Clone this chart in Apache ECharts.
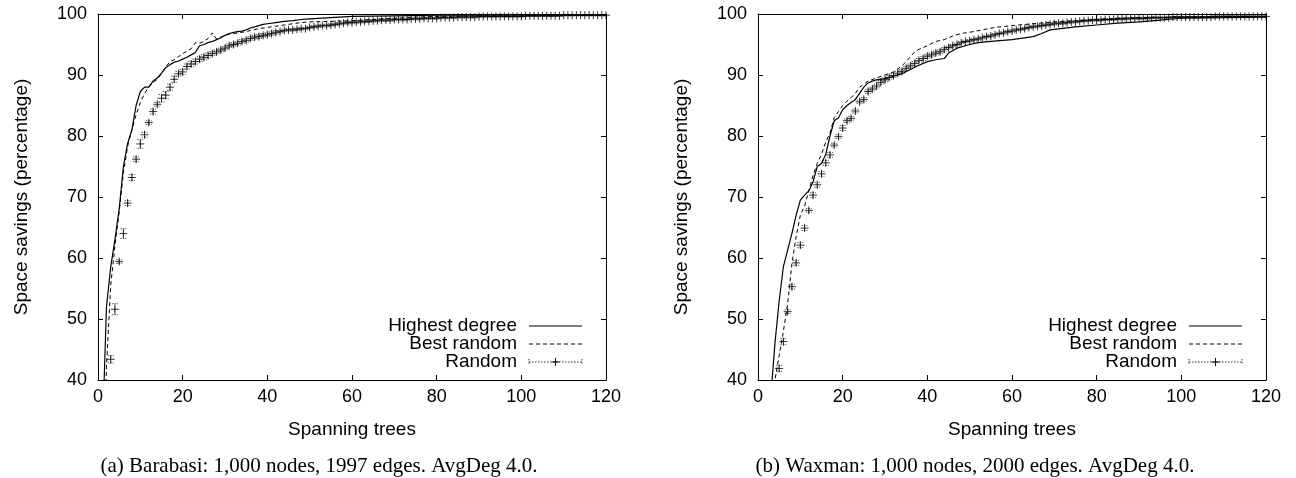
<!DOCTYPE html>
<html>
<head>
<meta charset="utf-8">
<script src="https://cdn.jsdelivr.net/npm/echarts@6/dist/echarts.min.js"></script>
<style>
  html, body { margin: 0; padding: 0; background: #fff; }
  #chart { width: 1296px; height: 478px; }
</style>
</head>
<body>
<div id="chart"></div>
<script>
// ---- Axis ticks ----
const xTicks = [0, 20, 40, 60, 80, 100, 120];
const yTicks = [40, 50, 60, 70, 80, 90, 100];

// ---- (a) Barabasi: [spanning trees, space savings %] ----
const barabasiHighest = [
  [1, 30], [2, 52], [3, 58.5], [4, 63], [5, 68], [6, 75], [7, 78.8], [8, 81], [9, 85], [10, 87.3],
  [11, 88], [12, 88], [13, 89], [14, 89.5], [15, 90.3], [16, 91.2], [17, 91.7], [18, 92.1], [19, 92.3], [20, 92.6],
  [21, 92.9], [22, 93.3], [23, 93.7], [24, 94.8], [25, 95.0], [26, 95.3], [27, 95.5], [28, 95.8], [29, 96.1], [30, 96.5],
  [31, 96.8], [32, 97.0], [33, 97.1], [34, 97.2], [35, 97.4], [36, 97.7], [37, 97.9], [38, 98.1], [39, 98.3], [40, 98.4],
  [42, 98.6], [44, 98.8], [46, 98.9], [48, 99.1], [50, 99.2], [55, 99.4], [60, 99.6], [70, 99.7], [80, 99.8],
  [100, 99.85], [120, 99.9]
];
const barabasiBest = [
  [1, 20], [2, 42], [3, 55.5], [4, 62], [5, 67.5], [6, 74], [7, 78.3], [8, 81], [9, 83.5], [10, 85.5],
  [11, 87], [12, 88], [13, 88.7], [14, 89.3], [15, 90.2], [16, 91.3], [17, 92.2], [18, 92.5], [19, 93], [20, 93.5],
  [21, 93.9], [22, 94.3], [23, 95.3], [24, 95.2], [25, 95.5], [26, 96], [27, 96.9], [28, 95.9], [29, 96.2], [30, 96.5],
  [31, 96.7], [32, 96.8], [33, 96.9], [34, 97.0], [35, 97.1], [36, 97.3], [38, 97.6], [40, 97.8], [42, 98.0], [44, 98.2],
  [46, 98.4], [48, 98.6], [50, 98.7], [55, 98.8], [60, 98.9], [65, 99.1], [70, 99.3], [75, 99.5], [80, 99.6],
  [90, 99.7], [100, 99.7], [120, 99.8]
];
// Random: mean per tree count, starting at 3 trees
const barabasiRandStart = 3;
const barabasiRand = [
  43.4, 51.6, 59.4, 64.0, 69.0, 73.2, 76.2, 78.7, 80.2, 82.2,
  84.0, 85.2, 86.2, 86.7, 88.0, 89.3, 90.2, 90.5, 91.4, 91.8,
  92.2, 92.6, 92.9, 93.2, 93.5, 93.8, 94.1, 94.4, 94.8, 95.0,
  95.2, 95.5, 95.7, 96.0, 96.2, 96.3, 96.5, 96.6, 96.8, 97.0,
  97.1, 97.3, 97.4, 97.4, 97.5, 97.6, 97.6, 97.8, 97.9, 98.0,
  98.1, 98.1, 98.2, 98.3, 98.4, 98.5, 98.6, 98.6, 98.7, 98.7,
  98.8, 98.8, 98.9, 98.9, 99.0, 99.0, 99.0, 99.1, 99.1, 99.1,
  99.1, 99.2, 99.2, 99.2, 99.3, 99.3, 99.3, 99.3, 99.4, 99.4,
  99.4, 99.4, 99.5, 99.5, 99.5, 99.5, 99.5, 99.6, 99.6, 99.6,
  99.6, 99.6, 99.6, 99.6, 99.6, 99.6, 99.6, 99.6, 99.7, 99.7,
  99.7, 99.7, 99.7, 99.7, 99.7, 99.7, 99.7, 99.8, 99.8, 99.8,
  99.8, 99.8, 99.8, 99.8, 99.8, 99.8, 99.8, 99.8
];
const barabasiRandErr = [
  0.6, 0.9, 0.3, 0.8, 0.4, 0.5, 0.4, 0.7, 0.4, 0.3,
  0.4, 0.3, 0.6, 0.6, 0.5, 0.5, 0.4, 0.4, 0.4, 0.4,
  0.4, 0.4, 0.4, 0.4, 0.3, 0.3, 0.3, 0.3, 0.3, 0.3,
  0.3, 0.3, 0.3, 0.3, 0.3, 0.3, 0.3, 0.3, 0.3, 0.3,
  0.2, 0.2, 0.2, 0.2, 0.2, 0.2, 0.2, 0.2, 0.2, 0.2,
  0.2, 0.2, 0.2, 0.2, 0.2, 0.2, 0.2, 0.2, 0.2, 0.2,
  0.2, 0.2, 0.2, 0.2, 0.2, 0.2, 0.2, 0.2, 0.2, 0.2,
  0.15, 0.15, 0.15, 0.15, 0.15, 0.15, 0.15, 0.15, 0.15, 0.15,
  0.15, 0.15, 0.15, 0.15, 0.15, 0.15, 0.15, 0.15, 0.15, 0.15,
  0.1, 0.1, 0.1, 0.1, 0.1, 0.1, 0.1, 0.1, 0.1, 0.1,
  0.1, 0.1, 0.1, 0.1, 0.1, 0.1, 0.1, 0.1, 0.1, 0.1,
  0.1, 0.1, 0.1, 0.1, 0.1, 0.1, 0.1, 0.1
];

// ---- (b) Waxman ----
const waxmanHighest = [
  [3, 37], [4, 46], [5, 53], [6, 58.6], [7, 61.3], [8, 64], [9, 67], [10, 69.5],
  [11, 70.3], [12, 71], [13, 72.5], [14, 75], [15, 75.5], [16, 77], [17, 80], [18, 82.5], [19, 83], [20, 84.3],
  [21, 85], [22, 85.5], [23, 86], [24, 87], [25, 88], [26, 88.7], [27, 89], [28, 89.2], [30, 89.4],
  [32, 89.8], [34, 90.2], [36, 90.9], [38, 91.6], [40, 92.2], [42, 92.5], [44, 92.7], [45, 93.6],
  [47, 94.4], [50, 95.0], [52, 95.3], [55, 95.5], [60, 95.8], [65, 96.3], [67, 96.8], [69, 97.4],
  [75, 97.9], [80, 98.2], [85, 98.5], [90, 98.7], [95, 99.0], [100, 99.3], [110, 99.4], [120, 99.5]
];
const waxmanBest = [
  [3, 30], [4, 40], [5, 44], [6, 48], [7, 52.5], [8, 59], [9, 63.5], [10, 67],
  [11, 68.5], [12, 71], [13, 73.5], [14, 75.5], [15, 77], [16, 79], [17, 80.5], [18, 83], [19, 84], [20, 85],
  [21, 85.7], [22, 86.3], [23, 87], [24, 88], [25, 88.5], [26, 89], [28, 89.5], [30, 90],
  [32, 90.5], [34, 91.5], [35, 92.2], [36, 93], [37, 93.8], [38, 94.2], [40, 94.8], [42, 95.5],
  [44, 95.8], [46, 96.4], [48, 96.8], [50, 97.0], [53, 97.4], [56, 97.8], [60, 98.1], [65, 98.4],
  [70, 98.7], [75, 98.9], [80, 99.1], [85, 99.3], [90, 99.4], [100, 99.5], [110, 99.6], [120, 99.6]
];
const waxmanRandStart = 5;
const waxmanRand = [
  41.9, 46.3, 51.2, 55.3, 59.2, 62.1, 64.9, 67.8, 70.3, 72.0,
  73.8, 75.6, 76.9, 78.5, 79.9, 81.3, 82.5, 82.9, 84.1, 85.6,
  86.0, 87.3, 87.7, 88.2, 88.8, 89.2, 89.6, 89.9, 90.3, 90.6,
  91.1, 91.5, 91.9, 92.4, 92.7, 93.1, 93.3, 93.6, 93.8, 94.2,
  94.5, 94.8, 95.0, 95.3, 95.5, 95.6, 95.8, 95.9, 96.1, 96.3,
  96.4, 96.6, 96.8, 96.9, 97.1, 97.2, 97.4, 97.5, 97.6, 97.8,
  97.9, 98.0, 98.1, 98.2, 98.3, 98.4, 98.5, 98.5, 98.6, 98.7,
  98.7, 98.8, 98.9, 98.9, 99.0, 99.0, 99.0, 99.1, 99.1, 99.1,
  99.2, 99.2, 99.2, 99.3, 99.3, 99.3, 99.3, 99.3, 99.4, 99.4,
  99.4, 99.4, 99.4, 99.5, 99.5, 99.5, 99.5, 99.5, 99.5, 99.5,
  99.5, 99.5, 99.5, 99.6, 99.6, 99.6, 99.6, 99.6, 99.6, 99.6,
  99.6, 99.6, 99.6, 99.6, 99.6, 99.6
];
const waxmanRandErr = [
  0.5, 0.5, 0.3, 0.4, 0.4, 0.4, 0.4, 0.3, 0.4, 0.4,
  0.4, 0.4, 0.4, 0.3, 0.3, 0.4, 0.3, 0.3, 0.3, 0.3,
  0.3, 0.3, 0.3, 0.3, 0.3, 0.3, 0.3, 0.3, 0.3, 0.3,
  0.3, 0.3, 0.3, 0.3, 0.3, 0.3, 0.3, 0.3, 0.3, 0.3,
  0.2, 0.2, 0.2, 0.2, 0.2, 0.2, 0.2, 0.2, 0.2, 0.2,
  0.2, 0.2, 0.2, 0.2, 0.2, 0.2, 0.2, 0.2, 0.2, 0.2,
  0.2, 0.2, 0.2, 0.2, 0.2, 0.2, 0.2, 0.2, 0.2, 0.2,
  0.15, 0.15, 0.15, 0.15, 0.15, 0.15, 0.15, 0.15, 0.15, 0.15,
  0.15, 0.15, 0.15, 0.15, 0.15, 0.15, 0.15, 0.15, 0.15, 0.15,
  0.1, 0.1, 0.1, 0.1, 0.1, 0.1, 0.1, 0.1, 0.1, 0.1,
  0.1, 0.1, 0.1, 0.1, 0.1, 0.1, 0.1, 0.1, 0.1, 0.1,
  0.1, 0.1, 0.1, 0.1, 0.1, 0.1
];

const legendNames = ['Highest degree', 'Best random', 'Random'];
const captions = [
  '(a) Barabasi: 1,000 nodes, 1997 edges. AvgDeg 4.0.',
  '(b) Waxman: 1,000 nodes, 2000 edges. AvgDeg 4.0.'
];

// ---- helpers ----
const SANS = 'Liberation Sans, Arial, sans-serif';
const SERIF = 'Liberation Serif, Times New Roman, serif';
const INK = '#000';

function withErr(start, means, errs) {
  return means.map((m, i) => [start + i, m, m - errs[i], m + errs[i]]);
}

function xAxisPair(gridIndex) {
  const base = {
    gridIndex, type: 'value', min: xTicks[0], max: xTicks[xTicks.length - 1], interval: 20,
    splitLine: { show: false },
    axisLine: { show: true, onZero: false, lineStyle: { color: INK, width: 1 } },
    axisTick: { show: true, inside: true, length: 5, lineStyle: { color: INK } }
  };
  return [
    Object.assign({}, base, {
      position: 'bottom',
      axisLabel: { color: INK, fontSize: 18, fontFamily: SANS, margin: 8 },
      name: 'Spanning trees', nameLocation: 'middle', nameGap: 40,
      nameTextStyle: { color: INK, fontSize: 19, fontFamily: SANS }
    }),
    Object.assign({}, base, { position: 'top', axisLabel: { show: false } })
  ];
}
function yAxisPair(gridIndex) {
  const base = {
    gridIndex, type: 'value', min: yTicks[0], max: yTicks[yTicks.length - 1], interval: 10,
    splitLine: { show: false },
    axisLine: { show: true, onZero: false, lineStyle: { color: INK, width: 1 } },
    axisTick: { show: true, inside: true, length: 5, lineStyle: { color: INK } }
  };
  return [
    Object.assign({}, base, {
      position: 'left',
      axisLabel: { color: INK, fontSize: 18, fontFamily: SANS, margin: 11 },
      name: 'Space savings (percentage)', nameLocation: 'middle', nameGap: 67, nameRotate: 90,
      nameTextStyle: { color: INK, fontSize: 19, fontFamily: SANS }
    }),
    Object.assign({}, base, { position: 'right', axisLabel: { show: false } })
  ];
}

const PLUS = 'path://M0,5L10,5M5,0L5,10';

function panelSeries(axisIndex, highest, best, randData) {
  return [
    {
      type: 'line', name: legendNames[0], xAxisIndex: axisIndex, yAxisIndex: axisIndex,
      data: highest, showSymbol: false, clip: true,
      lineStyle: { color: INK, width: 1.2 }, z: 4
    },
    {
      type: 'line', name: legendNames[1], xAxisIndex: axisIndex, yAxisIndex: axisIndex,
      data: best, showSymbol: false, clip: true,
      lineStyle: { color: INK, width: 1, type: [4, 3] }, z: 4
    },
    {
      // error bars of the random trials
      type: 'custom', name: legendNames[2] + ' err', xAxisIndex: axisIndex, yAxisIndex: axisIndex,
      data: randData, clip: true, z: 2,
      renderItem: function (params, api) {
        const x = api.value(0);
        const lo = api.coord([x, api.value(2)]);
        const hi = api.coord([x, api.value(3)]);
        const cap = 3;
        const style = { stroke: '#555', lineWidth: 1, lineDash: [1.5, 1] };
        return {
          type: 'group',
          children: [
            { type: 'line', shape: { x1: lo[0], y1: lo[1], x2: hi[0], y2: hi[1] }, style },
            { type: 'line', shape: { x1: lo[0] - cap, y1: lo[1], x2: lo[0] + cap, y2: lo[1] }, style },
            { type: 'line', shape: { x1: hi[0] - cap, y1: hi[1], x2: hi[0] + cap, y2: hi[1] }, style }
          ]
        };
      }
    },
    {
      type: 'scatter', name: legendNames[2], xAxisIndex: axisIndex, yAxisIndex: axisIndex,
      data: randData.map(d => [d[0], d[1]]), symbol: PLUS, symbolSize: 8, clip: true, z: 3,
      itemStyle: { color: 'none', borderColor: INK, borderWidth: 1 }
    }
  ];
}

// legend block drawn with graphic primitives, anchored at the text's right edge
function legendGraphics(textRight, lineLeft, lineRight, rows) {
  const els = [];
  const font = '19px ' + SANS;
  legendNames.forEach((n, i) => {
    els.push({
      type: 'text', x: textRight, y: rows[i],
      style: { text: n, font, fill: INK, align: 'right', verticalAlign: 'middle' }
    });
  });
  els.push({ type: 'line', shape: { x1: lineLeft, y1: rows[0], x2: lineRight, y2: rows[0] },
    style: { stroke: INK, lineWidth: 1.2 } });
  els.push({ type: 'line', shape: { x1: lineLeft, y1: rows[1], x2: lineRight, y2: rows[1] },
    style: { stroke: INK, lineWidth: 1, lineDash: [4, 3] } });
  const y = rows[2], mid = (lineLeft + lineRight) / 2;
  const dot = { stroke: '#333', lineWidth: 1, lineDash: [1.5, 1.5] };
  els.push({ type: 'line', shape: { x1: lineLeft, y1: y, x2: lineRight, y2: y }, style: dot });
  els.push({ type: 'line', shape: { x1: lineLeft, y1: y - 3, x2: lineLeft, y2: y + 3 }, style: dot });
  els.push({ type: 'line', shape: { x1: lineRight, y1: y - 3, x2: lineRight, y2: y + 3 }, style: dot });
  els.push({ type: 'line', shape: { x1: mid - 4, y1: y, x2: mid + 4, y2: y }, style: { stroke: INK, lineWidth: 1 } });
  els.push({ type: 'line', shape: { x1: mid, y1: y - 4, x2: mid, y2: y + 4 }, style: { stroke: INK, lineWidth: 1 } });
  return els;
}

const chart = echarts.init(document.getElementById('chart'), null, { renderer: 'canvas' });

const xa = xAxisPair(0), xb = xAxisPair(1);
const ya = yAxisPair(0), yb = yAxisPair(1);

const option = {
  animation: false,
  backgroundColor: '#fff',
  grid: [
    { left: 98, right: 690, top: 14, bottom: 98 },
    { left: 758, right: 30, top: 14, bottom: 98 }
  ],
  xAxis: [xa[0], xb[0], xa[1], xb[1]],
  yAxis: [ya[0], yb[0], ya[1], yb[1]],
  series: [].concat(
    panelSeries(0, barabasiHighest, barabasiBest, withErr(barabasiRandStart, barabasiRand, barabasiRandErr)),
    panelSeries(1, waxmanHighest, waxmanBest, withErr(waxmanRandStart, waxmanRand, waxmanRandErr))
  ),
  graphic: [].concat(
    legendGraphics(517, 529, 582, [326, 344, 362]),
    legendGraphics(1177, 1189, 1242, [326, 344, 362]),
    [
      { type: 'text', x: 319, y: 466,
        style: { text: captions[0], font: '21px ' + SERIF, fill: INK, align: 'center', verticalAlign: 'middle' } },
      { type: 'text', x: 975, y: 466,
        style: { text: captions[1], font: '21px ' + SERIF, fill: INK, align: 'center', verticalAlign: 'middle' } }
    ]
  )
};
chart.setOption(option);
</script>
</body>
</html>
